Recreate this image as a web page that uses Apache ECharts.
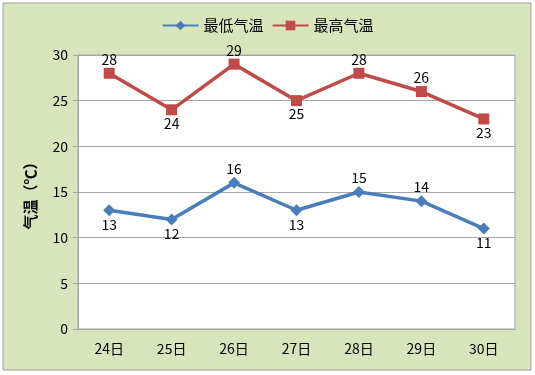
<!DOCTYPE html>
<html><head><meta charset="utf-8">
<script src="https://cdn.jsdelivr.net/npm/echarts@6/dist/echarts.min.js"></script>
<style>html,body{margin:0;padding:0;background:#fff}#c{width:535px;height:375px}</style>
</head><body><div id="c"></div>
<script>
var categories = ['24日','25日','26日','27日','28日','29日','30日'];
var lowTemps = [13,12,16,13,15,14,11];
var highTemps = [28,24,29,25,28,26,23];
var lowLabelPos = ['bottom','bottom','top','bottom','top','top','bottom'];
var highLabelPos = ['top','bottom','top','bottom','top','top','bottom'];
var yTicks = [0,5,10,15,20,25,30];

var font = '"Microsoft YaHei","Noto Sans CJK SC",sans-serif';
function mk(vals, pos){
  return vals.map(function(v,i){return {value:v,label:{position:pos[i]}};});
}
var chart = echarts.init(document.getElementById('c'));
chart.setOption({
  backgroundColor:'#fff',
  graphic:[{type:'rect',shape:{x:3,y:3,width:528,height:367},style:{fill:'#d8e4bc',stroke:'#a0a0a0',lineWidth:1},z:-10}],
  legend:{top:13,left:'center',itemWidth:36,itemHeight:12,itemGap:8,
    textStyle:{fontFamily:font,fontSize:15,color:'#000'},
    data:['最低气温','最高气温']},
  grid:{left:78,right:20,top:55,bottom:46,show:true,backgroundColor:'#fff',borderColor:'#a6a6a6',borderWidth:1},
  xAxis:{type:'category',data:categories,boundaryGap:true,
    axisLine:{lineStyle:{color:'#a6a6a6'}},axisTick:{show:false},
    axisLabel:{fontFamily:font,fontSize:14,color:'#000',margin:13}},
  yAxis:{type:'value',min:0,max:30,interval:5,
    name:'气温（℃）',nameLocation:'middle',nameGap:40,nameRotate:90,
    nameTextStyle:{fontFamily:font,fontSize:15,fontWeight:'bold',color:'#000'},
    axisLine:{show:true,lineStyle:{color:'#a6a6a6'}},
    axisTick:{show:true,length:5,lineStyle:{color:'#a6a6a6'}},
    axisLabel:{fontFamily:font,fontSize:14,color:'#000',margin:10,
      formatter:function(v){return yTicks.indexOf(v)>=0?String(v):'';}},
    splitLine:{lineStyle:{color:'#a6a6a6',width:1}}},
  series:[
    {name:'最低气温',type:'line',data:mk(lowTemps,lowLabelPos),color:'#4a7ebb',
      symbol:'diamond',symbolSize:12,lineStyle:{width:3.5,color:'#4a7ebb'},itemStyle:{color:'#4a7ebb'},
      label:{show:true,distance:1,fontFamily:font,fontSize:14,color:'#000'}},
    {name:'最高气温',type:'line',data:mk(highTemps,highLabelPos),color:'#be4b48',
      symbol:'rect',symbolSize:11,lineStyle:{width:3.5,color:'#be4b48'},itemStyle:{color:'#be4b48'},
      label:{show:true,distance:1,fontFamily:font,fontSize:14,color:'#000'}}
  ]
});
</script></body></html>
